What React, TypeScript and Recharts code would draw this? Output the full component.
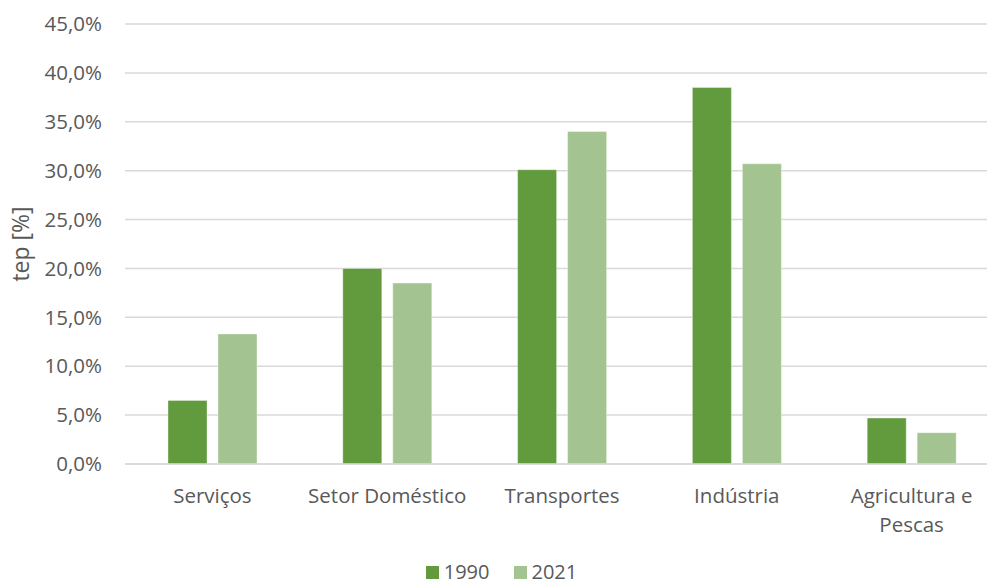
import React from "react";
import { BarChart, Bar, XAxis, YAxis, CartesianGrid, Legend } from "recharts";

const categories = ["Serviços", "Setor Doméstico", "Transportes", "Indústria", "Agricultura e Pescas"];
const values1990 = [6.5, 20.0, 30.1, 38.5, 4.7];
const values2021 = [13.3, 18.5, 34.0, 30.7, 3.2];
const yTicks = [0, 5, 10, 15, 20, 25, 30, 35, 40, 45];

const data = categories.map((c, i) => ({ name: c, y1990: values1990[i], y2021: values2021[i] }));

const C1990 = "#629B3E";
const C2021 = "#A3C490";
const TEXT = "#595959";
const FONT = "'Open Sans', sans-serif";

const XTick = (props: any) => {
  const { x, y, payload } = props;
  const label: string = payload.value;
  const lines = label === "Agricultura e Pescas" ? ["Agricultura e", "Pescas"] : [label];
  return (
    <g>
      {lines.map((l, i) => (
        <text
          key={i}
          x={x}
          y={y + i * 29}
          textAnchor="middle"
          dominantBaseline="central"
          fill={TEXT}
          fontSize={20.5}
          fontFamily={FONT}
        >
          {l}
        </text>
      ))}
    </g>
  );
};

const LegendContent = () => (
  <div style={{ display: "flex", justifyContent: "center", alignItems: "center", fontFamily: FONT, fontSize: 20, lineHeight: "22px", color: TEXT, paddingLeft: 16 }}>
    {[
      { c: C1990, t: "1990" },
      { c: C2021, t: "2021" },
    ].map((it, i) => (
      <div key={i} style={{ display: "flex", alignItems: "center", marginRight: i === 0 ? 24 : 0 }}>
        <div style={{ width: 13, height: 13, background: it.c, marginRight: 5 }} />
        <span>{it.t}</span>
      </div>
    ))}
  </div>
);

export default function App() {
  return (
    <div style={{ position: "absolute", left: 0, top: 0, width: 987, height: 586, overflow: "hidden", background: "#fff" }}>
      <BarChart
        width={1000}
        height={586}
        data={data}
        margin={{ top: 24, right: 1, bottom: 42, left: 0 }}
        barGap={11}
      >
        <CartesianGrid vertical={false} stroke="#D9D9D9" strokeWidth={1.5} />
        <XAxis
          dataKey="name"
          axisLine={{ stroke: "#D9D9D9", strokeWidth: 1.5 }}
          tickLine={false}
          tick={<XTick />}
          tickSize={0}
          tickMargin={31}
          height={80}
          interval={0}
        />
        <YAxis
          width={125}
          domain={[0, 45]}
          ticks={yTicks}
          axisLine={false}
          tickLine={false}
          tickSize={0}
          tickMargin={23}
          tickFormatter={(v: number) => v.toFixed(1).replace(".", ",") + "%"}
          tick={{ fill: TEXT, fontSize: 20.5, fontFamily: FONT }}
          label={{ value: "tep [%]", angle: -90, position: "insideLeft", dx: 16, fill: TEXT, fontSize: 23, fontFamily: FONT, style: { textAnchor: "middle" } }}
        />
        <Legend
          layout="horizontal"
          verticalAlign="middle"
          align="center"
          content={<LegendContent />}
          wrapperStyle={{ top: 561, left: 0, width: 987 }}
        />
        <Bar dataKey="y1990" name="1990" fill={C1990} barSize={39} stroke="#ffffff" strokeOpacity={0.35} isAnimationActive={false} />
        <Bar dataKey="y2021" name="2021" fill={C2021} barSize={39} stroke="#ffffff" strokeOpacity={0.35} isAnimationActive={false} />
      </BarChart>
    </div>
  );
}
